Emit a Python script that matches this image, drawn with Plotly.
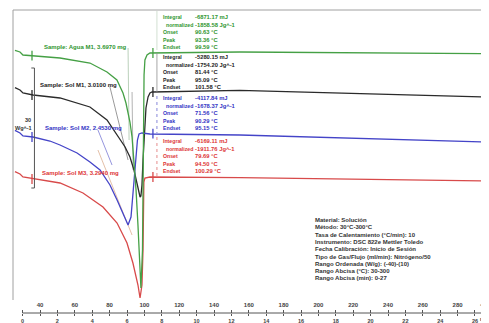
import plotly.graph_objects as go

# ---------------- data: temperature (°C) vs displayed heat flow (W/g, offset per sample) -------------
agua_m1_T = [25.6, 28.5, 30.2, 36.0, 51.5, 68.7, 78.5, 84.2, 87.7, 89.4, 90.6, 91.7, 92.9, 94.0, 95.2,
             96.3, 97.5, 98.0, 98.9, 99.2, 99.5, 99.8, 100.3, 101.5, 103.2, 154.9, 298.0]
agua_m1_W = [4.9, 4.5, 3.75, 3.5, 3.0, 1.75, -0.5, -2.5, -5.75, -8.25, -10.5, -13.0, -16.75, -22.5, -30.0,
             -38.75, -48.75, -54.5, -45.0, -32.5, -12.5, -1.25, 2.5, 3.75, 4.25, 4.5, 4.1]

sol_m1_T = [25.6, 28.5, 30.2, 36.0, 51.5, 55.5, 68.7, 78.5, 83.1, 86.0, 88.9, 91.7, 94.0, 95.7, 97.5,
            98.0, 98.6, 99.2, 100.1, 100.9, 102.1, 103.2, 104.4, 154.9, 298.0]
sol_m1_W = [-4.4, -5.0, -5.75, -6.25, -7.0, -7.5, -9.25, -12.5, -15.5, -17.25, -19.25, -21.75, -25.0, -28.25, -31.75,
            -31.5, -28.75, -22.5, -15.0, -9.5, -6.75, -5.75, -5.5, -5.1, -6.75]

sol_m2_T = [25.6, 28.5, 30.2, 36.0, 45.7, 51.5, 61.3, 68.7, 74.5, 80.2, 84.3, 87.7, 90.6, 92.3, 93.7,
            95.2, 96.0, 96.9, 98.6, 103.2, 154.9, 298.0]
sol_m2_W = [-15.1, -15.75, -16.5, -16.75, -17.75, -18.75, -20.75, -23.0, -25.0, -28.75, -32.5, -35.75, -38.75, -36.75, -30.0,
            -22.5, -17.5, -16.0, -15.75, -16.0, -16.25, -18.0]

sol_m3_T = [25.6, 28.5, 30.2, 37.1, 51.5, 64.7, 76.2, 84.3, 90.0, 93.4, 96.3, 97.5, 98.6, 99.2, 99.4,
            99.7, 100.3, 103.2, 154.9, 298.0]
sol_m3_W = [-25.4, -26.0, -26.75, -27.25, -28.25, -30.75, -34.25, -38.25, -43.25, -48.25, -53.75, -57.0, -53.75, -45.0, -32.5,
            -28.0, -27.0, -26.75, -26.9, -27.75]

# integration limit markers (left / right) on each curve
limit_T = [35.4, 104.9]
limit_W = {"agua": [3.6, 4.25], "m1": [-6.25, -5.5], "m2": [-16.75, -15.9], "m3": [-27.25, -26.75]}

# onset tangent construction lines: (T1, W1, T2, W2)
tangent_lines = [
    (90.6, 5.5, 91.2, -17.5),
    (80.2, -4.25, 90.6, -22.5),
    (92.9, -5.5, 93.5, -25.0),
    (73.3, -15.0, 81.4, -23.75),
    (73.3, -20.0, 92.9, -41.25),
]

sample_names = ["Sample: Agua M1, 3.6970 mg", "Sample: Sol M1, 3.0100 mg",
                "Sample: Sol M2, 2.4530 mg", "Sample: Sol M3, 3.2940 mg"]

result_labels = ["Integral", "normalized", "Onset", "Peak", "Endset"]
results_agua = ["-6871.17 mJ", "-1858.58 Jg^-1", "90.63 °C", "93.36 °C", "99.59 °C"]
results_m1 = ["-5280.15 mJ", "-1754.20 Jg^-1", "81.44 °C", "95.09 °C", "101.58 °C"]
results_m2 = ["-4117.84 mJ", "-1678.37 Jg^-1", "71.56 °C", "90.29 °C", "95.15 °C"]
results_m3 = ["-6169.11 mJ", "-1911.76 Jg^-1", "79.69 °C", "94.50 °C", "100.29 °C"]

info_lines = [
    "Material: Solución",
    "Método: 30°C-300°C",
    "Tasa de Calentamiento (°C/min): 10",
    "Instrumento: DSC 822e Mettler Toledo",
    "Fecha Calibración: Inicio de Sesión",
    "Tipo de Gas/Flujo (ml/min): Nitrógeno/50",
    "Rango Ordenada (W/g): (-40)-(10)",
    "Rango Abcisa (°C): 30-300",
    "Rango Abcisa (min): 0-27",
]

temp_ticks = list(range(30, 300, 10))
temp_labels = [40, 60, 80, 100, 120, 140, 160, 180, 200, 220, 240, 260, 280]
time_ticks = list(range(0, 27))
time_labels = list(range(0, 27, 2))
heating_rate = 10  # °C/min
start_temp = 30

scale_bar_W = 30  # W/g

# ---------------- styling ----------------
GREEN, BLACK, BLUE, RED = "#45a045", "#2b2b2b", "#4444c8", "#d84a4a"
TGREEN, TBLACK, TBLUE, TRED = "#2f962f", "#222222", "#3333c4", "#dd3535"
FONT = "Liberation Sans, Arial, sans-serif"

x_range = [24.48, 298.05]
y_range = [-60.75, 15.0]

fig = go.Figure()

tan_colors = ["#a8c4a8", "#808080", "#a0a0a0", "#7a7ad4", "#dcae90"]
for (t1, w1, t2, w2), c in zip(tangent_lines, tan_colors):
    fig.add_trace(go.Scatter(x=[t1, t2], y=[w1, w2], mode="lines",
                             line=dict(color=c, width=0.8), hoverinfo="skip"))

curves = [
    (sol_m1_T, sol_m1_W, BLACK, "m1"),
    (sol_m2_T, sol_m2_W, BLUE, "m2"),
    (sol_m3_T, sol_m3_W, RED, "m3"),
    (agua_m1_T, agua_m1_W, GREEN, "agua"),
]
for T, W, c, key in curves:
    fig.add_trace(go.Scatter(x=T, y=W, mode="lines", line=dict(color=c, width=1.3),
                             hoverinfo="skip"))
    fig.add_trace(go.Scatter(x=limit_T, y=limit_W[key], mode="markers",
                             marker=dict(symbol="line-ns", size=7, line=dict(color=c, width=1.3)),
                             hoverinfo="skip"))

# invisible trace to hold the minutes axis
fig.add_trace(go.Scatter(x=[time_ticks[0], time_ticks[-1]], y=[None, None], xaxis="x2",
                         mode="lines", hoverinfo="skip"))

shapes = []
# frame (top and left)
shapes.append(dict(type="line", xref="paper", yref="paper", x0=0, x1=1, y0=1, y1=1,
                   line=dict(color="#a0a0a0", width=1)))
shapes.append(dict(type="line", xref="paper", yref="y", x0=0, x1=0, y0=-57.5, y1=y_range[1],
                   line=dict(color="#a0a0a0", width=1)))
# x axis line
shapes.append(dict(type="line", xref="x", yref="paper", x0=start_temp, x1=x_range[1], y0=0, y1=0,
                   line=dict(color="#555555", width=1)))
# scale bar
sb_T, sb_top = 36.8, 0.5
shapes.append(dict(type="line", xref="x", yref="y", x0=sb_T, x1=sb_T, y0=sb_top, y1=sb_top - scale_bar_W,
                   line=dict(color="#555555", width=1)))
for yy in (sb_top, sb_top - scale_bar_W):
    shapes.append(dict(type="line", xref="x", yref="y", x0=sb_T - 1.8, x1=sb_T, y0=yy, y1=yy,
                       line=dict(color="#555555", width=1)))
# result block left edges
blk_T = 107.2
for y0, y1, c, dash in [(14.75, 5.0, "#c8d8c8", "solid"), (4.25, -5.5, "#909090", "solid"),
                        (-6.5, -15.75, "#6a6ad0", "dot"), (-16.75, -26.5, "#e07070", "dot")]:
    shapes.append(dict(type="line", xref="x", yref="y", x0=blk_T, x1=blk_T, y0=y0, y1=y1,
                       line=dict(color=c, width=0.8, dash=dash)))

annotations = []


def txt(x, y, s, size, color, xanchor="left", xref="x", yref="y", yanchor="middle", yshift=0):
    annotations.append(dict(x=x, y=y, xref=xref, yref=yref, text="<b>" + s + "</b>", showarrow=False,
                            xanchor=xanchor, yanchor=yanchor, yshift=yshift,
                            font=dict(family=FONT, size=size, color=color)))


# scale bar label
txt(33.1, -12.5, str(scale_bar_W), 5.5, "#333333", "center")
txt(30.6, -14.5, "Wg^-1", 5.5, "#333333", "center")

# sample labels
for name, (lx, ly), c in zip(sample_names,
                             [(41.2, 5.75), (38.9, -3.75), (41.7, -14.5), (40.0, -25.75)],
                             [TGREEN, TBLACK, TBLUE, TRED]):
    txt(lx, ly, name, 6, c)

# result blocks
row_step = 1.875
for vals, top, c in [(results_agua, 13.25, TGREEN), (results_m1, 3.25, TBLACK),
                     (results_m2, -7.0, TBLUE), (results_m3, -17.75, TRED)]:
    for i, (lab, val) in enumerate(zip(result_labels, vals)):
        y = top - i * row_step
        txt(111.3 if lab == "normalized" else 109.5, y, lab, 5.2, c)
        txt(127.9, y, val, 5.8, c)

# info block
for i, line in enumerate(info_lines):
    txt(196.9, -37.5 - i * 1.825, line, 6, "#333333")

# axis unit labels
txt(1.0, 0, "°C", 6, "#444444", "right", xref="paper", yref="paper", yanchor="bottom", yshift=2)
txt(291.9, 0, "min", 5, "#444444", "left", xref="x", yref="paper", yanchor="top", yshift=-1)

# The page body has an 8 px default margin, so the figure is 8 px smaller than the window.
fig.update_layout(
    width=481, height=315,
    margin=dict(l=5, r=0, t=2, b=10),
    paper_bgcolor="white", plot_bgcolor="white",
    showlegend=False,
    font=dict(family=FONT, size=6, color="#444444"),
    xaxis=dict(range=x_range, tickvals=temp_ticks,
               ticktext=["<b>%d</b>" % t if t in temp_labels else "" for t in temp_ticks],
               ticks="inside", ticklen=3, tickwidth=1, tickcolor="#555555",
               ticklabelposition="inside", showgrid=False, zeroline=False, showline=False,
               tickfont=dict(family=FONT, size=6, color="#444444")),
    xaxis2=dict(range=[(x_range[0] - start_temp) / heating_rate, (x_range[1] - start_temp) / heating_rate],
                overlaying="x", side="bottom", anchor="y", tickvals=time_ticks,
                ticktext=["<b>%d</b>" % t if t in time_labels else "" for t in time_ticks],
                ticks="outside", ticklen=2, tickwidth=1, tickcolor="#555555",
                showgrid=False, zeroline=False, showline=False,
                tickfont=dict(family=FONT, size=5.5, color="#444444")),
    yaxis=dict(range=y_range, visible=False, showgrid=False, zeroline=False),
    shapes=shapes,
    annotations=annotations,
)

fig.write_html("out.html")
